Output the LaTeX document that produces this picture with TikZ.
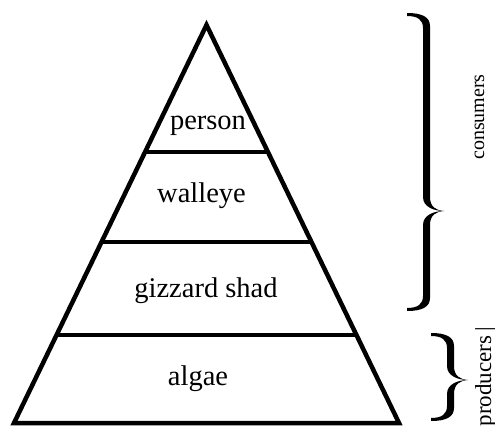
\documentclass[tikz,border=0pt]{standalone}
\usepackage{fontspec}
\setmainfont{Liberation Serif}
\usetikzlibrary{calc}

\tikzset{
    pics/halfcurly/.style={code={
        \fill (0,0) .. controls (-8,0.6) and (-14,4) .. (-14,14) -- (-14,#1-12)
            .. controls (-14,#1-3) and (-22,#1+1) .. (-37,#1+1) -- (-37,#1-2)
            .. controls (-26,#1-2) and (-21,#1-6) .. (-21,#1-14) -- (-21,14)
            .. controls (-21,4) and (-10,0) .. cycle;
    }},
    pics/curly/.style 2 args={code={
        \pic {halfcurly=#1};
        \pic[yscale=-1] {halfcurly=#2};
    }}
}

\begin{document}
\begin{tikzpicture}[
    x=1pt, y=1pt,
    wall/.style={line width=4.5pt, line join=miter},
    tier/.style={anchor=base, inner sep=0pt, font=\fontsize{28.5}{34}\selectfont},
    group/.style={anchor=base, rotate=90, inner sep=0pt, font=\fontsize{20}{24}\selectfont}]

\useasboundingbox (0,0) rectangle (495,429);

\coordinate (apex) at (206.5,404);
\coordinate (bl) at (14,6);
\coordinate (br) at (399,6);

\draw[wall] (apex) -- (br) -- (bl) -- cycle;
\foreach \t in {0.319,0.545,0.779}
    \draw[wall] ($(apex)!\t!(bl)$) -- ($(apex)!\t!(br)$);

\node[tier] (person) at (208,299) {person};
\node[tier] (walleye) at (201.5,226) {walleye};
\node[tier] (shad) at (206,132) {gizzard shad};
\node[tier] (algae) at (198,44) {algae};

\pic (upper) at (444,218) {curly={197}{99}};
\pic (lower) at (468,49) {curly={46}{40}};

\node[group] (consumers) at (484,312) {consumers};
\node[group, anchor=base east, font=\fontsize{23}{27}\selectfont] (producers) at (491,102) {producers\,|};

\end{tikzpicture}
\end{document}
